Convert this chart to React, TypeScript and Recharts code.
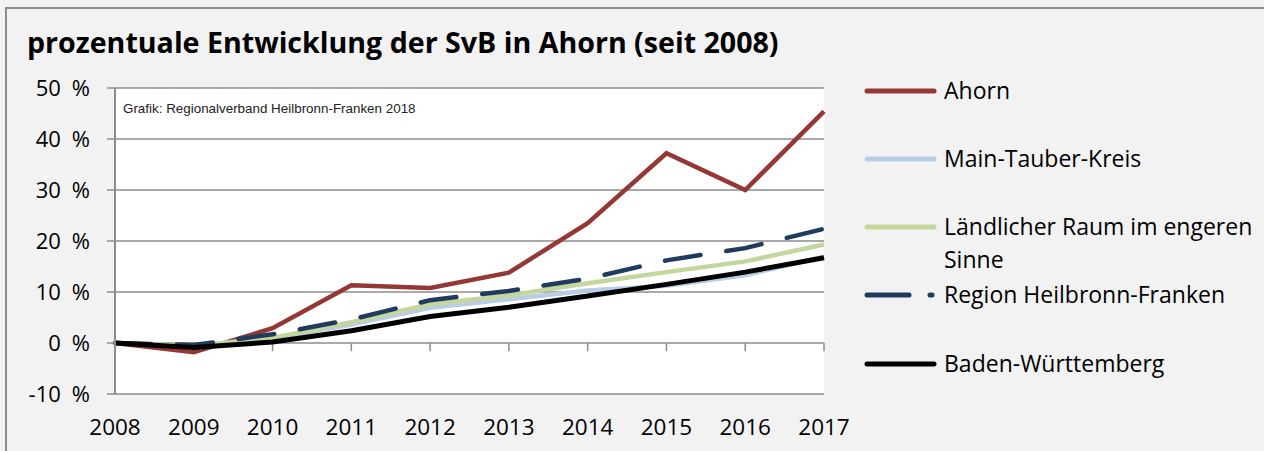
import { LineChart, Line, XAxis, YAxis, CartesianGrid, ReferenceLine } from 'recharts';

const years = ['2008', '2009', '2010', '2011', '2012', '2013', '2014', '2015', '2016', '2017'];
const ahorn = [0, -1.8, 2.9, 11.3, 10.8, 13.8, 23.5, 37.2, 30.0, 45.4];
const mainTauber = [0, -0.6, 0.9, 3.6, 6.9, 8.6, 10.3, 11.2, 13.3, 16.9];
const laendlich = [0, -0.6, 1.0, 4.1, 7.6, 9.3, 11.7, 13.9, 16.0, 19.3];
const region = [0, -0.4, 1.7, 4.6, 8.4, 10.2, 12.6, 16.2, 18.6, 22.4];
const bw = [0, -0.9, 0.2, 2.4, 5.2, 7.0, 9.2, 11.5, 13.9, 16.7];
const yTicks = [-10, 0, 10, 20, 30, 40, 50];

const data = years.map((year, i) => ({
  year,
  ahorn: ahorn[i],
  mainTauber: mainTauber[i],
  laendlich: laendlich[i],
  region: region[i],
  bw: bw[i],
}));

const font = '"Open Sans", "Noto Sans", sans-serif';
const gridColor = '#8c8c8c';

const legendItems = [
  { label: 'Ahorn', color: '#953735', top: 91 },
  { label: 'Main-Tauber-Kreis', color: '#b9cde5', top: 159 },
  { label: 'Ländlicher Raum im engeren\nSinne', color: '#c3d69b', top: 227 },
  { label: 'Region Heilbronn-Franken', color: '#1f3b5e', top: 295, dashed: true },
  { label: 'Baden-Württemberg', color: '#000000', top: 364 },
];

function LegendSample({ color, dashed }: { color: string; dashed?: boolean }) {
  return (
    <svg width={76} height={10} style={{ display: 'block' }}>
      {dashed ? (
        <>
          <line x1={3} y1={5} x2={45} y2={5} stroke={color} strokeWidth={5} strokeLinecap="round" />
          <line x1={66} y1={5} x2={68} y2={5} stroke={color} strokeWidth={5} strokeLinecap="round" />
        </>
      ) : (
        <line x1={3} y1={5} x2={70} y2={5} stroke={color} strokeWidth={5} strokeLinecap="round" />
      )}
    </svg>
  );
}

export default function App() {
  return (
    <div style={{ position: 'absolute', left: 0, top: 0, width: 1264, height: 451, background: '#f2f2f2', fontFamily: font, overflow: 'hidden' }}>
      <div style={{ position: 'absolute', left: 5, top: 7, width: 1300, height: 500, borderLeft: `2px solid ${gridColor}`, borderTop: `2px solid ${gridColor}` }} />
      <div style={{ position: 'absolute', left: 27, top: 24, fontSize: 28.6, lineHeight: '36px', fontWeight: 700, color: '#000', whiteSpace: 'nowrap' }}>
        prozentuale Entwicklung der SvB in Ahorn (seit 2008)
      </div>

      <div style={{ position: 'absolute', left: 0, top: 0 }}>
        <LineChart width={860} height={451} data={data} margin={{ top: 88, right: 36, bottom: 17, left: 55 }}>
          <CartesianGrid vertical={false} stroke={gridColor} strokeWidth={1.5} fill="#ffffff" fillOpacity={1} />
          <XAxis
            dataKey="year"
            axisLine={false}
            tickLine={false}
            tickMargin={19}
            height={40}
            interval={0}
            tick={{ fill: '#000', fontSize: 22.5, fontFamily: font }}
          />
          <YAxis
            domain={[-10, 50]}
            ticks={yTicks}
            width={60}
            axisLine={{ stroke: gridColor, strokeWidth: 2 }}
            tickLine={{ stroke: gridColor, strokeWidth: 1.5 }}
            tickSize={8}
            tickMargin={17}
            tickFormatter={(v: number) => `${v}\u2002%`}
            tick={{ fill: '#000', fontSize: 22, fontFamily: font }}
          />
          {years.slice(1).map((y) => (
            <ReferenceLine key={y} segment={[{ x: y, y: 0 }, { x: y, y: -1.6 }]} stroke={gridColor} strokeWidth={1.5} />
          ))}
          <Line dataKey="ahorn" stroke="#953735" strokeWidth={4.5} dot={false} isAnimationActive={false} />
          <Line dataKey="mainTauber" stroke="#b9cde5" strokeWidth={4.5} dot={false} isAnimationActive={false} />
          <Line dataKey="laendlich" stroke="#c3d69b" strokeWidth={4.5} dot={false} isAnimationActive={false} />
          <Line dataKey="region" stroke="#1f3b5e" strokeWidth={4.5} strokeDasharray="36 26" strokeLinecap="round" dot={false} isAnimationActive={false} />
          <Line dataKey="bw" stroke="#000000" strokeWidth={5} dot={false} isAnimationActive={false} />
        </LineChart>
      </div>

      <div style={{ position: 'absolute', left: 123, top: 101, fontFamily: '"Liberation Sans", Arial, sans-serif', fontSize: 13.4, color: '#222' }}>
        Grafik: Regionalverband Heilbronn-Franken 2018
      </div>

      {legendItems.map((item) => (
        <div key={item.label} style={{ position: 'absolute', left: 864, top: item.top - 5 }}>
          <LegendSample color={item.color} dashed={item.dashed} />
          <div style={{ position: 'absolute', left: 80, top: -12, fontSize: 23, lineHeight: '33px', color: '#000', whiteSpace: 'pre' }}>
            {item.label}
          </div>
        </div>
      ))}
    </div>
  );
}
